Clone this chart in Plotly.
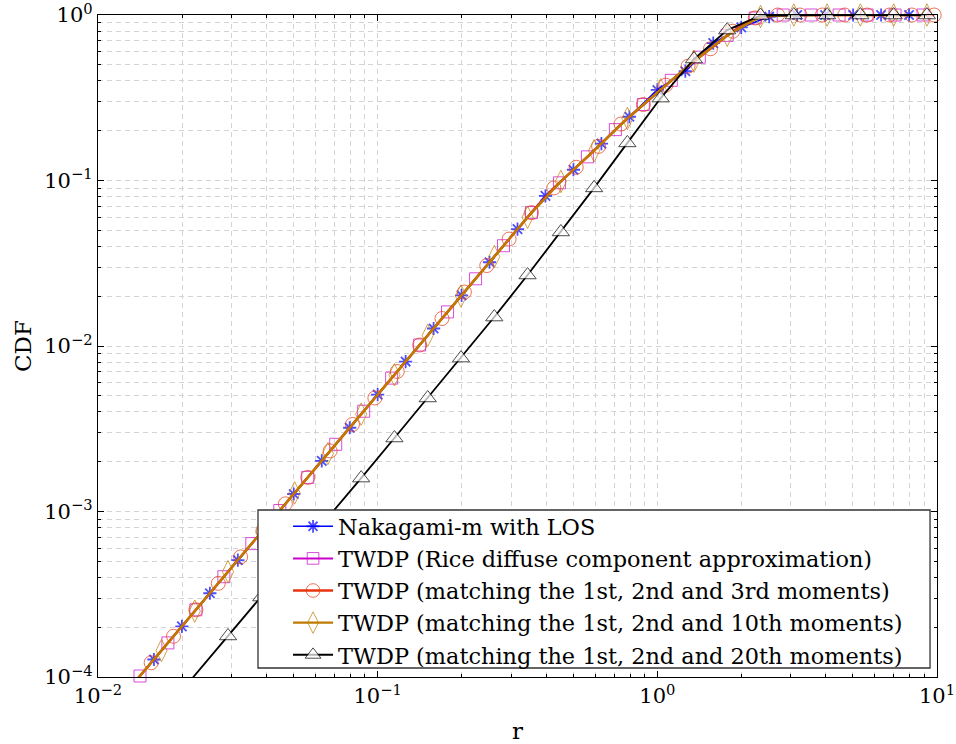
import plotly.graph_objects as go

# ---------------- data ----------------
# Nakagami-m with LOS (blue asterisks)
r_nak = [0.01259, 0.01585, 0.01995, 0.02512, 0.03162, 0.03981, 0.05012, 0.06310, 0.07943,
         0.1, 0.1259, 0.1585, 0.1995, 0.2512, 0.3162, 0.3981, 0.5012, 0.6310, 0.7943,
         1.0, 1.259, 1.585, 1.995, 2.512, 3.162, 3.981, 5.012, 6.310, 7.943]
cdf_nak = [8.05e-5, 1.276e-4, 2.023e-4, 3.206e-4, 5.082e-4, 8.054e-4, 1.276e-3, 2.023e-3, 3.206e-3,
           5.082e-3, 8.054e-3, 0.01276, 0.02023, 0.03206, 0.05082, 0.0807, 0.1161, 0.1671, 0.2427,
           0.3524, 0.4571, 0.6761, 0.8414, 0.977, 1.0, 1.0, 1.0, 1.0, 1.0]

# TWDP (Rice diffuse component approximation) (magenta squares)
r_rice = [0.01122, 0.01413, 0.01778, 0.02239, 0.02818, 0.03548, 0.04467, 0.05623, 0.07079, 0.08913,
          0.1122, 0.1413, 0.1778, 0.2239, 0.2818, 0.3548, 0.4467, 0.5623, 0.7079, 0.8913,
          1.122, 1.413, 1.778, 2.239, 2.818, 3.548, 4.467, 5.623, 7.079, 8.913]
cdf_rice = [6.397e-5, 1.014e-4, 1.607e-4, 2.547e-4, 4.036e-4, 6.397e-4, 1.014e-3, 1.607e-3, 2.547e-3, 4.036e-3,
            6.397e-3, 0.01014, 0.01607, 0.02547, 0.04036, 0.06397, 0.0968, 0.139, 0.203, 0.288,
            0.403, 0.556, 0.753, 0.959, 1.0, 1.0, 1.0, 1.0, 1.0, 1.0]

# TWDP (matching the 1st, 2nd and 3rd moments) (red circles)
r_m3 = [0.01288, 0.01549, 0.01862, 0.02239, 0.02692, 0.03236, 0.03890, 0.04677, 0.05623, 0.06761,
        0.08128, 0.09772, 0.1175, 0.1413, 0.1698, 0.2042, 0.2455, 0.2951, 0.3548, 0.4266,
        0.5129, 0.6166, 0.7413, 0.8913, 1.072, 1.288, 1.549, 1.862, 2.239, 2.692,
        3.236, 3.890, 4.677, 5.623, 6.761, 8.128, 9.772]
cdf_m3 = [8.433e-5, 1.219e-4, 1.762e-4, 2.547e-4, 3.681e-4, 5.321e-4, 7.691e-4, 1.112e-3, 1.607e-3, 2.323e-3,
          3.357e-3, 4.853e-3, 7.015e-3, 0.01014, 0.01466, 0.02118, 0.03062, 0.04426, 0.06397, 0.0902,
          0.1202, 0.1607, 0.2193, 0.2877, 0.3767, 0.4909, 0.6252, 0.7980, 0.9594, 1.0,
          1.0, 1.0, 1.0, 1.0, 1.0, 1.0, 1.0]

# TWDP (matching the 1st, 2nd and 10th moments) (orange diamonds)
r_m10 = [0.01282, 0.01687, 0.02218, 0.02917, 0.03837, 0.05047, 0.06637, 0.08730, 0.1148, 0.1510,
         0.1986, 0.2612, 0.3436, 0.4519, 0.5943, 0.7816, 1.028, 1.352, 1.778, 2.339,
         3.076, 4.046, 5.321, 6.998, 9.204]
cdf_m10 = [8.356e-5, 1.445e-4, 2.500e-4, 4.325e-4, 7.482e-4, 1.294e-3, 2.239e-3, 3.873e-3, 6.699e-3, 0.01159,
           0.02004, 0.03467, 0.05998, 0.09863, 0.1514, 0.2371, 0.3540, 0.5260, 0.7534, 0.9795,
           1.0, 1.0, 1.0, 1.0, 1.0]

# TWDP (matching the 1st, 2nd and 20th moments) (black triangles)
r_m20 = [0.01687, 0.02218, 0.02917, 0.03837, 0.05047, 0.06637, 0.08730, 0.1148, 0.1510,
         0.1986, 0.2612, 0.3436, 0.4519, 0.5943, 0.7816, 1.028, 1.352, 1.778, 2.339,
         3.076, 4.046, 5.321, 6.998, 9.204]
cdf_m20 = [5.916e-5, 1.023e-4, 1.770e-4, 3.041e-4, 5.236e-4, 9.141e-4, 1.592e-3, 2.780e-3, 4.853e-3,
           8.453e-3, 0.01496, 0.02685, 0.04887, 0.0902, 0.1687, 0.3148, 0.5420, 0.8110, 0.9931,
           1.0, 1.0, 1.0, 1.0, 1.0]

series_names = [
    "Nakagami-m with LOS",
    "TWDP (Rice diffuse component approximation)",
    "TWDP (matching the 1st, 2nd and 3rd moments)",
    "TWDP (matching the 1st, 2nd and 10th moments)",
    "TWDP (matching the 1st, 2nd and 20th moments)",
]

x_tick_vals = [0.01, 0.1, 1, 10]
x_tick_text = ["10<sup>\u22122</sup>", "10<sup>\u22121</sup>", "10<sup>0</sup>", "10<sup>1</sup>"]
y_tick_vals = [1e-4, 1e-3, 1e-2, 1e-1, 1]
y_tick_text = ["10<sup>\u22124</sup>", "10<sup>\u22123</sup>", "10<sup>\u22122</sup>",
               "10<sup>\u22121</sup>", "10<sup>0</sup>"]

# ---------------- styling ----------------
FONT = "'DejaVu Serif', 'Liberation Serif', serif"
GRID = "#d4d4d4"
DASH = "5px,4px"

# number of leading points that only carry the line (no marker)
lead = [1, 1, 1, 1, 2]
styles = [
    dict(color="#0000ff", symbol="asterisk-open", size=11, lw=1.6, fill="#0000ff", mlw=1.8),
    dict(color="#cc00cc", symbol="square-open", size=12, lw=2.0, fill="#cc00cc", mlw=1.0),
    dict(color="#e8340e", symbol="circle-open", size=14, lw=2.4, fill="#e8340e", mlw=1.0),
    dict(color="#bf7a00", symbol="diamond-tall-open", size=16, lw=2.4, fill="#bf7a00", mlw=1.0),
    dict(color="#000000", symbol="triangle-up", size=15, lw=1.8, fill="#ffffff", mlw=1.0),
]
data = [(r_nak, cdf_nak), (r_rice, cdf_rice), (r_m3, cdf_m3), (r_m10, cdf_m10), (r_m20, cdf_m20)]

fig = go.Figure()
for (rx, cy), name, st, nl in zip(data, series_names, styles, lead):
    sizes = [0] * nl + [st["size"]] * (len(rx) - nl)
    fig.add_trace(go.Scatter(
        x=rx, y=cy, name=name, mode="lines+markers",
        line=dict(color=st["color"], width=st["lw"]),
        marker=dict(symbol=st["symbol"], size=sizes, color=st["fill"],
                    line=dict(color=st["color"], width=st["mlw"])),
        cliponaxis=False,
    ))

x_minor = [m * 10.0 ** k for k in (-2, -1, 0) for m in range(2, 10)]
y_minor = [m * 10.0 ** k for k in (-4, -3, -2, -1) for m in range(2, 10)]

axis_common = dict(
    type="log", showline=True, linecolor="black", linewidth=1.3, mirror="allticks",
    ticks="inside", ticklen=6, tickcolor="black", tickwidth=1,
    showgrid=True, gridcolor=GRID, griddash=DASH, gridwidth=1,
    zeroline=False, tickmode="array", ticklabeloverflow="allow",
    tickfont=dict(family=FONT, size=21, color="black"),
)

fig.update_xaxes(
    **axis_common, range=[-2, 1], tickvals=x_tick_vals, ticktext=x_tick_text,
    minor=dict(tickmode="array", tickvals=x_minor, ticks="inside", ticklen=3, tickcolor="black",
               showgrid=True, gridcolor=GRID, griddash=DASH, gridwidth=1),
    title=dict(text="r", font=dict(family=FONT, size=23, color="black"), standoff=18),
)
fig.update_yaxes(
    **axis_common, range=[-4, 0], tickvals=y_tick_vals, ticktext=y_tick_text,
    minor=dict(tickmode="array", tickvals=y_minor, ticks="inside", ticklen=3, tickcolor="black",
               showgrid=True, gridcolor=GRID, griddash=DASH, gridwidth=1),
    title=dict(text="CDF", font=dict(family=FONT, size=23, color="black"), standoff=6),
)

# legend frame (white box that hides the curves behind the legend)
fig.add_shape(
    type="rect", xref="paper", yref="paper",
    x0=0.1907, x1=0.9917, y0=0.0136, y1=0.2523,
    fillcolor="white", line=dict(color="#333333", width=1.3), layer="above",
)

fig.update_layout(
    width=956, height=744,
    margin=dict(l=98, r=19, t=15, b=67, autoexpand=False),
    paper_bgcolor="white", plot_bgcolor="white",
    showlegend=True,
    legend=dict(
        x=0.2265, y=0.2595, xanchor="left", yanchor="top",
        bgcolor="rgba(0,0,0,0)", borderwidth=0,
        font=dict(family=FONT, size=22.4, color="black"),
        itemwidth=40, tracegroupgap=0,
    ),
    font=dict(family=FONT),
)

fig.write_html("out.html")
